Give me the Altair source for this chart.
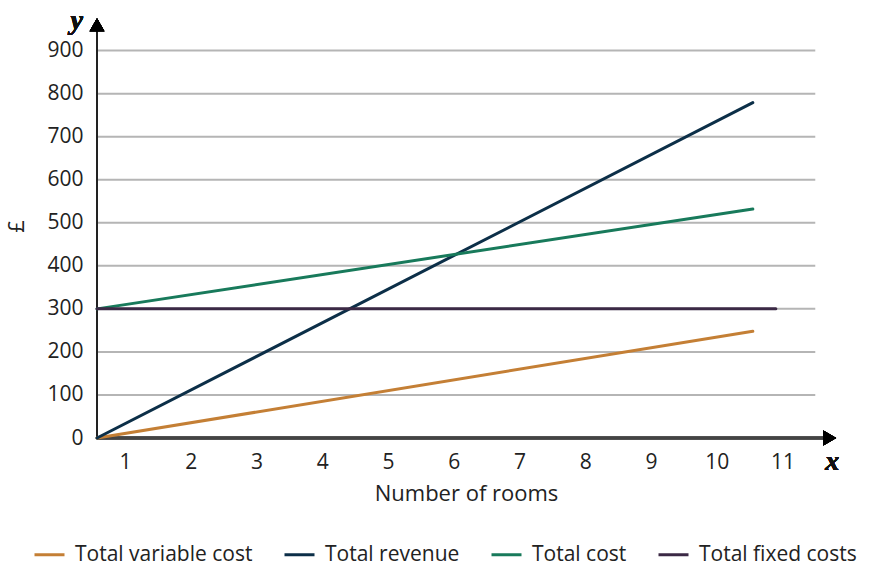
import altair as alt
import pandas as pd

# Series (two end points each)
series = ["Total variable cost", "Total revenue", "Total cost", "Total fixed costs"]
x_start = [0.575, 0.575, 0.575, 0.575]
x_end = [10.55, 10.55, 10.55, 10.9]
y_start = [0, 0, 300, 300]
y_end = [248, 779, 532, 300]
colors = ["#c47f35", "#0c2f48", "#187a5b", "#3b2945"]
grid_values = [100, 200, 300, 400, 500, 600, 700, 800, 900]
x_ticks = list(range(1, 12))
y_ticks = [0, 100, 200, 300, 400, 500, 600, 700, 800, 900]

rows = []
for s, xa, xb, ya, yb in zip(series, x_start, x_end, y_start, y_end):
    rows.append({"series": s, "x": xa, "y": ya})
    rows.append({"series": s, "x": xb, "y": yb})
df = pd.DataFrame(rows)
grid_df = pd.DataFrame({"v": grid_values})

XMIN, XMAX = 0.575, 11.8
YMAX = 985
xs = alt.Scale(domain=[XMIN, XMAX], nice=False, zero=False)
ys = alt.Scale(domain=[0, YMAX], nice=False)
FONT = "Open Sans"

grid = alt.Chart(grid_df).mark_rule(color="#b5b5b5", strokeWidth=2).encode(
    y=alt.Y("v:Q", scale=ys),
    x=alt.datum(XMIN, scale=xs),
    x2=alt.datum(11.5),
)

lines = alt.Chart(df).mark_line(strokeWidth=3, strokeCap="round").encode(
    x=alt.X("x:Q", scale=xs,
            axis=alt.Axis(values=x_ticks, format="d", title="Number of rooms", domain=False,
                          ticks=False, grid=False, labelFont=FONT, labelFontSize=21,
                          labelColor="#222", labelPadding=13, titleFont=FONT, titleFontSize=22,
                          titleFontWeight="normal", titleColor="#222", titlePadding=11)),
    y=alt.Y("y:Q", scale=ys,
            axis=alt.Axis(values=y_ticks, format="d", title="£", domain=False, ticks=False,
                          grid=False, labelFont=FONT, labelFontSize=21, labelColor="#222",
                          labelPadding=14, titleFont=FONT, titleFontSize=22,
                          titleFontWeight="normal", titleColor="#222", titlePadding=18)),
    color=alt.Color("series:N", scale=alt.Scale(domain=series, range=colors),
                    legend=alt.Legend(title=None, orient="none", direction="horizontal",
                                      legendX=-64, legendY=524, symbolType="stroke",
                                      symbolSize=900, symbolStrokeWidth=3,
                                      labelFont=FONT, labelFontSize=21, labelColor="#222",
                                      labelOffset=9, columnPadding=25, labelLimit=300)),
    detail="series:N",
)

xaxis = alt.Chart(grid_df).mark_rule(color="#444", strokeWidth=2.5).encode(
    x=alt.datum(XMIN, scale=xs), x2=alt.datum(11.72), y=alt.datum(0, scale=ys))
yaxis = alt.Chart(grid_df).mark_rule(color="#222", strokeWidth=2).encode(
    x=alt.datum(XMIN, scale=xs), y=alt.datum(0, scale=ys), y2=alt.datum(950))
arrow_x = alt.Chart(grid_df).mark_point(shape="triangle-right", filled=True, color="#000",
                                        size=220, opacity=1).encode(
    x=alt.datum(11.72, scale=xs), y=alt.datum(0, scale=ys))
arrow_y = alt.Chart(grid_df).mark_point(shape="triangle-up", filled=True, color="#000",
                                        size=220, opacity=1).encode(
    x=alt.datum(XMIN, scale=xs), y=alt.datum(960, scale=ys))
lab_y = alt.Chart(grid_df).mark_text(text="y", font="Liberation Serif", fontStyle="italic",
                                     fontWeight="bold", fontSize=28, color="#111", align="right",
                                     dx=-14).encode(
    x=alt.datum(XMIN, scale=xs), y=alt.datum(968, scale=ys))
lab_x = alt.Chart(grid_df).mark_text(text="x", font="Liberation Serif", fontStyle="italic",
                                     fontWeight="bold", fontSize=28, color="#111", dy=24).encode(
    x=alt.datum(11.76, scale=xs), y=alt.datum(0, scale=ys))

chart = alt.layer(grid, xaxis, yaxis, lines, arrow_x, arrow_y, lab_y, lab_x).properties(
    width=738, height=424,
    autosize=alt.AutoSizeParams(type="none"),
    padding={"left": 97, "top": 14, "right": 39, "bottom": 130},
    background="white",
).configure_view(stroke=None)

chart.save("out.html", embed_options={"renderer": "svg", "actions": False})
